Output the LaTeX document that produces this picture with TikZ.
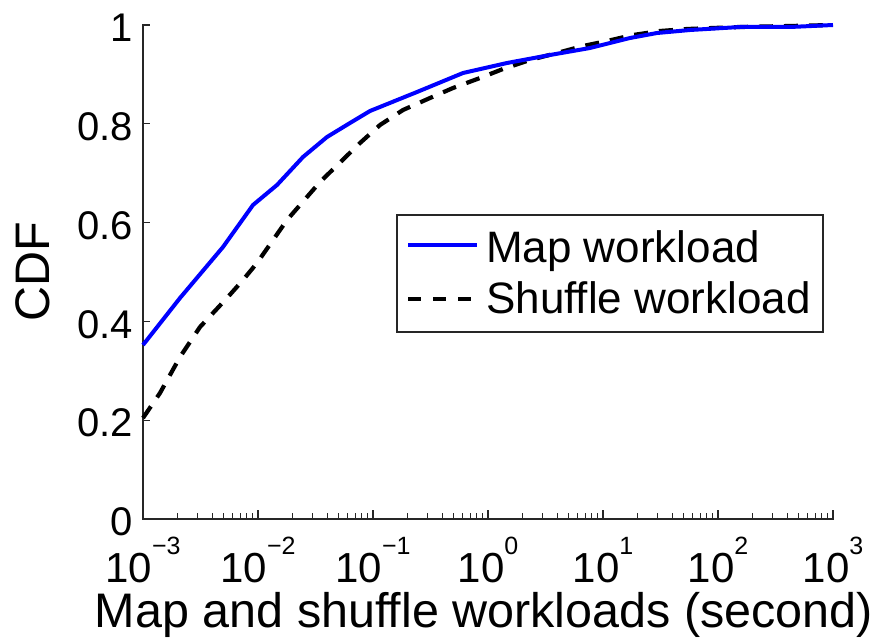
\documentclass[tikz,border=0pt]{standalone}
\usepackage{fontspec}
\setmainfont{Liberation Sans}
\begin{document}
\begin{tikzpicture}[x=1pt,y=-1pt,
  axisline/.style={line width=1.5pt,black!85,line cap=rect},
  majtick/.style={line width=1.3pt,black!85},
  mintick/.style={line width=1.1pt,black!85},
  ytl/.style={anchor=east,inner sep=0pt,font=\fontsize{40}{42}\selectfont},
  xtl/.style={anchor=base,inner sep=0pt,font=\fontsize{42}{44}\selectfont},
  axlabel/.style={inner sep=0pt,font=\fontsize{48.5}{50}\selectfont},
  legtext/.style={anchor=base west,inner sep=0pt,font=\fontsize{44}{46}\selectfont},
  mapline/.style={line width=4pt,color={rgb,255:red,0;green,0;blue,255},line join=round},
  shufline/.style={line width=4.2pt,black,dash pattern=on 14pt off 11pt,line join=round}]
\useasboundingbox (0,0) rectangle (882,639);
% axes
\coordinate (o) at (143,519);
\coordinate (top) at (143,25);
\coordinate (right) at (833,519);
\draw[axisline] (top) -- (o) -- (right);
% y ticks
\foreach \v/\lab [count=\i] in {0/0,0.2/0.2,0.4/0.4,0.6/0.6,0.8/0.8,1/1}{
  \pgfmathsetmacro\yy{519-494*\v}
  \draw[majtick] (143,\yy) -- (150,\yy);
  \node[ytl] (yt\i) at (133,\yy+3) {\lab};
}
% x ticks
\foreach \k/\lab [count=\i] in {-3/−3,-2/−2,-1/−1,0/0,1/1,2/2,3/3}{
  \pgfmathsetmacro\xx{143+115*(\k+3)}
  \draw[majtick] (\xx,519) -- (\xx,510);
  \node[xtl] (xt\i) at (\xx,582) {10\raisebox{28pt}{\fontsize{25}{26}\selectfont\lab}};
}
\foreach \k in {-3,...,2}{
  \foreach \m in {2,...,9}{
    \pgfmathsetmacro\xx{143+115*(\k+3+log10(\m))}
    \draw[mintick] (\xx,519) -- (\xx,513);
  }
}
% labels
\node[axlabel,anchor=base] (xlab) at (484,627) {Map and shuffle workloads (second)};
\node[axlabel,rotate=90] (ylab) at (33,272) {CDF};
% curves
\draw[shufline] (143,418) -- (160,393) -- (180,357) -- (200,327) -- (227,298) -- (243,280) -- (257,263) -- (287,220) -- (320,182) -- (360,143) -- (380,125) -- (403,110) -- (430,98) -- (453,88) -- (480,78) -- (503,69) -- (530,60) -- (557,53) -- (583,46) -- (607,41) -- (633,35) -- (660,31) -- (687,29) -- (713,28) -- (740,27) -- (790,26) -- (833,25);
\draw[mapline] (143,345) -- (180,298) -- (223,247) -- (253,205) -- (277,185) -- (303,157) -- (327,137) -- (350,123) -- (370,111) -- (417,92) -- (463,73) -- (507,63) -- (550,55) -- (590,48) -- (630,38) -- (657,33) -- (690,30) -- (740,27) -- (790,27) -- (833,25);
% legend
\draw[line width=1.5pt,black!85,fill=white] (397,215) rectangle (823,332);
\coordinate (l1a) at (408,245); \coordinate (l1b) at (477,245);
\coordinate (l2a) at (408,299); \coordinate (l2b) at (477,299);
\draw[mapline] (l1a) -- (l1b);
\draw[line width=4.2pt,black,dash pattern=on 13pt off 12pt] (l2a) -- (l2b);
\node[legtext] (leg1) at (486,262) {Map workload};
\node[legtext] (leg2) at (486,313) {Shuffle workload};
\end{tikzpicture}
\end{document}
